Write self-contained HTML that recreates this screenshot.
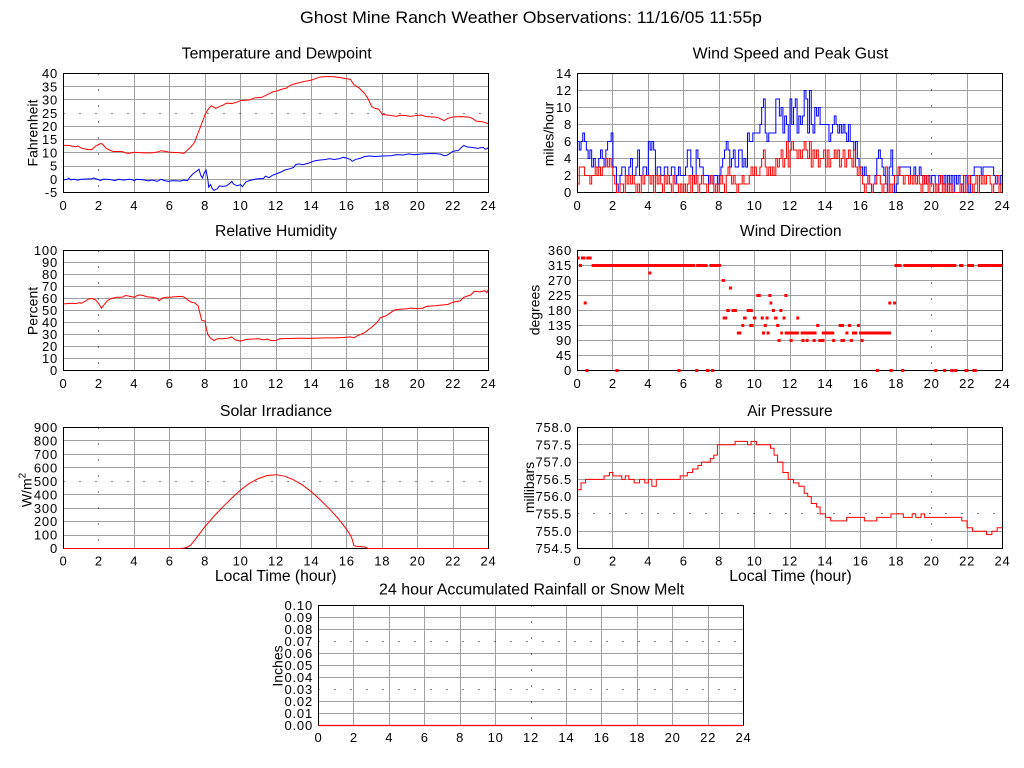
<!DOCTYPE html>
<html><head><meta charset="utf-8"><style>
html,body{margin:0;padding:0;background:#fff;}
svg{display:block;}
.g{stroke:#a0a0a0;fill:none;stroke-width:1}
.d{stroke:#000;stroke-dasharray:1 15;fill:none;stroke-width:1}
.b{fill:none;stroke:#000;stroke-width:1}
.s{fill:none;vector-effect:non-scaling-stroke;stroke-width:1}
.t{font-size:13px;letter-spacing:0.8px}
.yl text{text-anchor:end}
.xl text{text-anchor:middle}
.ct{font-size:15.5px;text-anchor:middle}
.at{font-size:14px;text-anchor:middle}
</style></head><body>
<svg width="1024" height="768" viewBox="0 0 1024 768" font-family="'Liberation Sans', Arial, sans-serif" fill="#000">
<rect width="1024" height="768" fill="#fff"/>
<text x="531" y="23" font-size="17" text-anchor="middle" textLength="462" lengthAdjust="spacingAndGlyphs">Ghost Mine Ranch Weather Observations: 11/16/05 11:55p</text>

<!-- ============ TEMPERATURE ============ -->
<text class="ct" x="276.7" y="58.5" textLength="190" lengthAdjust="spacingAndGlyphs">Temperature and Dewpoint</text>
<path class="g" d="M134.5 73.5V192.5M169.5 73.5V192.5M205.5 73.5V192.5M240.5 73.5V192.5M276.5 73.5V192.5M311.5 73.5V192.5M346.5 73.5V192.5M382.5 73.5V192.5M417.5 73.5V192.5M453.5 73.5V192.5M63.5 86.5H488.5M63.5 99.5H488.5M63.5 126.5H488.5M63.5 139.5H488.5M63.5 152.5H488.5M63.5 166.5H488.5M63.5 179.5H488.5"/>
<path class="d" d="M98.5 73.5V192.5M63.5 113.5H488.5"/>
<rect class="b" x="63.5" y="73.5" width="425" height="119"/>
<g transform="translate(63.5,192.5) scale(17.7083,-2.6444) translate(0,5)">
<polyline class="s" stroke="#ff0000" points="0,12.8 0.3,12.8 0.5,12.5 0.7,12.3 0.8,12.6 1.0,11.8 1.2,11.5 1.4,11.2 1.6,11.2 1.8,12.5 2.0,13.2 2.1,13.5 2.2,13.3 2.4,11.8 2.6,11 2.8,10.5 3.0,10.5 3.3,10.5 3.5,10 3.7,9.8 4.0,10.2 4.5,10 5.0,10 5.3,10.3 5.5,10.8 5.7,10.6 6.0,10.2 6.5,10.1 6.8,9.8 7.0,11 7.2,12.3 7.4,14 7.6,17.5 7.8,21 8.0,24.5 8.2,26.8 8.35,27.8 8.5,27.2 8.6,26.8 8.8,27.5 9.0,28 9.2,28.8 9.5,28.6 9.8,29.2 10,29.8 10.5,30 10.8,30.8 11.2,31 11.5,32 11.8,33 12.1,33.5 12.3,34 12.6,34.5 12.8,35.5 13.0,36 13.3,36.5 13.6,37 14.0,37.5 14.2,38 14.5,38.7 14.8,38.8 15.2,38.8 15.6,38.5 16.0,38 16.2,37.8 16.4,35.8 16.7,34.5 17.0,32.5 17.2,30.5 17.4,27.5 17.6,26.8 17.8,26.5 18.0,24.5 18.3,24.3 18.6,24 18.8,23.8 19.0,24.2 19.3,24.1 19.6,23.8 19.8,24 20.2,24.3 20.5,23.7 21.0,23.5 21.2,23.2 21.4,22.5 21.5,22.2 21.7,23 22.0,23.6 22.5,23.7 22.9,23.5 23.1,23 23.3,22 23.6,21.8 23.8,21.5 24,21"/>
<polyline class="s" stroke="#0000ff" points="0,-0.3 0.2,0 0.3,0.4 0.4,-0.2 0.6,0 0.8,-0.3 1.0,0 1.3,0.1 1.6,0.2 1.7,0.5 1.9,0 2.1,-0.5 2.2,0 2.5,0 2.7,-0.2 2.9,-0.5 3.1,0 3.4,-0.3 3.7,0 3.9,-0.2 4.0,-0.6 4.1,0 4.5,-0.2 4.8,-0.6 5.0,-0.3 5.3,-0.8 5.5,0 5.7,-0.5 5.9,-0.8 6.2,-0.5 6.6,-0.7 6.8,-0.3 7.0,-0.5 7.1,0.5 7.3,2 7.5,3 7.65,3.8 7.75,1.5 7.85,0.5 7.95,2.5 8.05,3.5 8.15,0 8.2,-3 8.3,-2 8.4,-3.5 8.5,-4.2 8.7,-3.5 8.8,-2.5 9.0,-2.7 9.2,-2.5 9.4,-1.5 9.5,-0.8 9.6,-1.8 9.8,-2.5 10.0,-2 10.1,-2.8 10.3,-1 10.5,-0.5 10.8,0 11.0,0.2 11.3,0.3 11.4,1.2 11.6,0.6 11.8,1.5 12.0,2 12.3,2.8 12.5,3.5 12.8,4 13.0,4.5 13.1,5.5 13.3,5.8 13.5,5.5 13.8,6 14.0,6.5 14.2,7 14.5,7.3 14.8,7.5 15.0,7.8 15.3,7.5 15.6,7.8 15.8,8.3 16.0,8 16.2,7.5 16.3,6.8 16.5,7.5 16.8,8 17.0,8.6 17.3,8.8 17.6,8.6 18.0,8.8 18.5,8.9 18.8,9.3 19.2,9.2 19.5,9.6 19.8,9.3 20.0,9.4 20.3,9.6 20.6,9.7 21.0,9.7 21.3,9.5 21.5,8.9 21.7,9.2 22.0,10.6 22.3,10.9 22.5,12.2 22.6,12.8 22.8,12.2 23.1,12 23.4,11.7 23.7,12.1 23.8,11.4 23.9,11.5 24,12"/>
</g>
<g class="t yl"><text x="58" y="78.1">40</text><text x="58" y="91.3">35</text><text x="58" y="104.5">30</text><text x="58" y="117.8">25</text><text x="58" y="131">20</text><text x="58" y="144.2">15</text><text x="58" y="157.4">10</text><text x="58" y="170.7">5</text><text x="58" y="183.9">0</text><text x="58" y="197.1">-5</text></g>
<g class="t xl"><text x="63.5" y="210">0</text><text x="98.9" y="210">2</text><text x="134.3" y="210">4</text><text x="169.8" y="210">6</text><text x="205.2" y="210">8</text><text x="240.6" y="210">10</text><text x="276" y="210">12</text><text x="311.4" y="210">14</text><text x="346.8" y="210">16</text><text x="382.3" y="210">18</text><text x="417.7" y="210">20</text><text x="453.1" y="210">22</text><text x="488.5" y="210">24</text></g>
<text class="at" transform="translate(37.5,133) rotate(-90)">Fahrenheit</text>

<!-- ============ WIND SPEED ============ -->
<text class="ct" x="790.5" y="58.5" textLength="195.6" lengthAdjust="spacingAndGlyphs">Wind Speed and Peak Gust</text>
<path class="g" d="M612.5 73.5V192.5M648.5 73.5V192.5M683.5 73.5V192.5M719.5 73.5V192.5M754.5 73.5V192.5M790.5 73.5V192.5M825.5 73.5V192.5M860.5 73.5V192.5M896.5 73.5V192.5M967.5 73.5V192.5M577.5 90.5H1002.5M577.5 107.5H1002.5M577.5 124.5H1002.5M577.5 141.5H1002.5M577.5 158.5H1002.5M577.5 175.5H1002.5"/>
<path class="d" d="M931.5 73.5V192.5"/>
<rect class="b" x="577.5" y="73.5" width="425" height="119"/>
<g transform="translate(577.5,192.5) scale(17.7083,-8.5)">
<path class="s" stroke="#0000ff" d="M0,6H0.1V5H0.2V6H0.3V7H0.4V6H0.5V5H0.6V4H0.7V5H0.8V3H0.9V4H1V3H1.1V3H1.2V4H1.3V5H1.4V4H1.5V3H1.6V5H1.7V6H1.8V6H1.9V7H2V3H2.1V3H2.2V1H2.3V0H2.4V2H2.5V3H2.6V3H2.7V2H2.8V2H2.9V3H3V4H3.1V2H3.2V2H3.3V3H3.4V5H3.5V2H3.6V2H3.7V3H3.8V3H3.9V2H4V6H4.1V5H4.2V6H4.3V5H4.4V2H4.5V3H4.6V3H4.7V2H4.8V2H4.9V3H5V3H5.1V2H5.2V2H5.3V3H5.4V3H5.5V1H5.6V2H5.7V3H5.8V2H5.9V2H6V2H6.1V3H6.2V5H6.3V5H6.4V3H6.5V2H6.6V1H6.7V5H6.8V4H6.9V3H7V3H7.1V2H7.2V2H7.3V2H7.4V1H7.5V2H7.6V1H7.7V2H7.8V2H7.9V1H8V2H8.1V3H8.2V4H8.3V5H8.4V6H8.5V5H8.6V3H8.7V4H8.8V5H8.9V3H9V3H9.1V5H9.2V5H9.3V3H9.4V4H9.5V3H9.6V7H9.7V6H9.8V6H9.9V7H10V7H10.1V7H10.2V7H10.3V8H10.4V10H10.5V11H10.6V7H10.7V6H10.8V7H10.9V7H11V7H11.1V7H11.2V11H11.3V11H11.4V9H11.5V10H11.6V7H11.7V9H11.8V8H11.9V6H12V11H12.1V8H12.2V10H12.3V11H12.4V7H12.5V9H12.6V8H12.7V9H12.8V12H12.9V11H13V7H13.1V12H13.2V8H13.3V7H13.4V10H13.5V9H13.6V10H13.7V8H13.8V8H13.9V8H14V8H14.1V8H14.2V6H14.3V7H14.4V8H14.5V9H14.6V8H14.7V7H14.8V8H14.9V7H15V8H15.1V7H15.2V6H15.3V8H15.4V6H15.5V6H15.6V5H15.7V6H15.8V4H15.9V3H16V3H16.1V2H16.2V3H16.3V2H16.4V1H16.5V1H16.6V0H16.7V1H16.8V2H16.9V4H17V5H17.1V4H17.2V3H17.3V2H17.4V1H17.5V0H17.6V3H17.7V5H17.8V2H17.9V0H18V1H18.1V2H18.2V3H18.3V3H18.4V3H18.5V3H18.6V3H18.7V3H18.8V2H18.9V2H19V3H19.1V2H19.2V2H19.3V3H19.4V2H19.5V1H19.6V2H19.7V1H19.8V2H19.9V1H20V2H20.1V2H20.2V1H20.3V0H20.4V2H20.5V2H20.6V1H20.7V2H20.8V0H20.9V2H21V1H21.1V2H21.2V0H21.3V2H21.4V1H21.5V2H21.6V0H21.7V1H21.8V2H21.9V2H22V1H22.1V0H22.2V2H22.3V2H22.4V3H22.5V3H22.6V3H22.7V3H22.8V2H22.9V3H23V3H23.1V3H23.2V3H23.3V3H23.4V3H23.5V2H23.6V1H23.7V2H23.8V1H23.9V2H24"/>
<path class="s" stroke="#ff0000" d="M0,1H0.1V3H0.2V3H0.3V3H0.4V2H0.5V2H0.6V2H0.7V1H0.8V2H0.9V2H1V3H1.1V2H1.2V3H1.3V2H1.4V3H1.5V3H1.6V4H1.7V3H1.8V4H1.9V3H2V2H2.1V1H2.2V0H2.3V0H2.4V1H2.5V1H2.6V0H2.7V2H2.8V1H2.9V2H3V1H3.1V2H3.2V1H3.3V0H3.4V1H3.5V0H3.6V2H3.7V1H3.8V2H3.9V2H4V2H4.1V1H4.2V2H4.3V0H4.4V2H4.5V1H4.6V2H4.7V1H4.8V0H4.9V2H5V1H5.1V2H5.2V1H5.3V0H5.4V2H5.5V1H5.6V1H5.7V0H5.8V1H5.9V0H6V1H6.1V0H6.2V1H6.3V2H6.4V0H6.5V2H6.6V1H6.7V2H6.8V0H6.9V1H7V2H7.1V1H7.2V1H7.3V0H7.4V1H7.5V2H7.6V1H7.7V0H7.8V1H7.9V0H8V1H8.1V2H8.2V1H8.3V0H8.4V2H8.5V3H8.6V2H8.7V1H8.8V2H8.9V1H9V0H9.1V1H9.2V1H9.3V2H9.4V1H9.5V1H9.6V1H9.7V2H9.8V3H9.9V2H10V3H10.1V2H10.2V2H10.3V3H10.4V4H10.5V5H10.6V3H10.7V2H10.8V3H10.9V2H11V3H11.1V2H11.2V4H11.3V3H11.4V4H11.5V5H11.6V3H11.7V4H11.8V6H11.9V3H12V5H12.1V6H12.2V5H12.3V5H12.4V4H12.5V5H12.6V4H12.7V5H12.8V6H12.9V5H13V4H13.1V6H13.2V3H13.3V5H13.4V4H13.5V5H13.6V3H13.7V4H13.8V4H13.9V5H14V3H14.1V5H14.2V3H14.3V4H14.4V4H14.5V5H14.6V4H14.7V5H14.8V3H14.9V4H15V5H15.1V3H15.2V4H15.3V5H15.4V4H15.5V3H15.6V5H15.7V3H15.8V2H15.9V3H16V2H16.1V1H16.2V0H16.3V1H16.4V2H16.5V1H16.6V0H16.7V1H16.8V1H16.9V2H17V2H17.1V1H17.2V0H17.3V1H17.4V3H17.5V0H17.6V1H17.7V0H17.8V1H17.9V2H18V2H18.1V3H18.2V2H18.3V2H18.4V1H18.5V2H18.6V2H18.7V1H18.8V2H18.9V1H19V2H19.1V1H19.2V2H19.3V1H19.4V0H19.5V2H19.6V1H19.7V2H19.8V0H19.9V1H20V1H20.1V0H20.2V1H20.3V0H20.4V1H20.5V2H20.6V0H20.7V1H20.8V0H20.9V1H21V0H21.1V1H21.2V0H21.3V0H21.4V0H21.5V0H21.6V1H21.7V0H21.8V2H21.9V0H22V1H22.1V2H22.2V1H22.3V0H22.4V1H22.5V2H22.6V0H22.7V2H22.8V1H22.9V2H23V1H23.1V2H23.2V2H23.3V1H23.4V0H23.5V1H23.6V2H23.7V2H23.8V0H23.9V1H24"/>
</g>
<g class="t yl"><text x="572" y="78.1">14</text><text x="572" y="95.1">12</text><text x="572" y="112.1">10</text><text x="572" y="129.1">8</text><text x="572" y="146.1">6</text><text x="572" y="163.1">4</text><text x="572" y="180.1">2</text><text x="572" y="197.1">0</text></g>
<g class="t xl"><text x="577.5" y="210">0</text><text x="612.9" y="210">2</text><text x="648.3" y="210">4</text><text x="683.8" y="210">6</text><text x="719.2" y="210">8</text><text x="754.6" y="210">10</text><text x="790" y="210">12</text><text x="825.4" y="210">14</text><text x="860.8" y="210">16</text><text x="896.3" y="210">18</text><text x="931.7" y="210">20</text><text x="967.1" y="210">22</text><text x="1002.5" y="210">24</text></g>
<text class="at" transform="translate(553.5,134) rotate(-90)">miles/hour</text>

<!-- ============ RELATIVE HUMIDITY ============ -->
<text class="ct" x="276" y="236" textLength="122" lengthAdjust="spacingAndGlyphs">Relative Humidity</text>
<path class="g" d="M134.5 250.5V370.5M169.5 250.5V370.5M205.5 250.5V370.5M240.5 250.5V370.5M276.5 250.5V370.5M311.5 250.5V370.5M346.5 250.5V370.5M382.5 250.5V370.5M417.5 250.5V370.5M453.5 250.5V370.5M63.5 262.5H488.5M63.5 274.5H488.5M63.5 286.5H488.5M63.5 298.5H488.5M63.5 310.5H488.5M63.5 322.5H488.5M63.5 334.5H488.5M63.5 346.5H488.5M63.5 358.5H488.5"/>
<path class="d" d="M98.5 250.5V370.5"/>
<rect class="b" x="63.5" y="250.5" width="425" height="120"/>
<g transform="translate(63.5,370.5) scale(17.7083,-1.2)">
<polyline class="s" stroke="#ff0000" points="0,55.5 0.3,55.8 0.5,56 0.7,55.7 0.9,56.5 1.0,56 1.2,57.5 1.4,59.5 1.6,60 1.8,59 2.0,55.5 2.15,52 2.3,55 2.5,58.5 2.7,60 3.0,61 3.3,61 3.5,62.5 3.7,62 4.0,61 4.1,62 4.3,63 4.5,62.5 4.7,61.5 5.0,61 5.3,60 5.4,58 5.6,60.5 5.8,61 6.0,61 6.3,61.5 6.7,61.8 6.9,60.5 7.0,59 7.2,57 7.4,56.5 7.6,54 7.7,48 7.8,42 8.0,41 8.05,36 8.15,30 8.3,27 8.5,25 8.7,26.5 9.0,26.5 9.3,27 9.5,28 9.7,25.5 10.0,24.5 10.3,25.8 10.5,26 11.0,26.5 11.3,25.5 11.5,26.2 11.7,25 12.0,25 12.2,26.5 13.0,26.8 13.4,27 13.8,26.8 14.3,27 14.8,27.2 15.3,27.2 15.8,27.5 16.2,28 16.4,27.2 16.6,29 17.0,31.5 17.4,36 17.7,40 17.9,44 18.2,45.5 18.5,48.5 18.7,50.5 19.0,51 19.4,51.5 19.6,52 20.0,51.5 20.3,52 20.5,53.5 21.0,54 21.3,54.5 21.7,55 22.0,57 22.4,58 22.6,61 22.8,62 23.0,63 23.2,66 23.5,65.5 23.8,66.5 23.9,65 24,67.5"/>
</g>
<g class="t yl"><text x="58" y="255.1">100</text><text x="58" y="267.1">90</text><text x="58" y="279.1">80</text><text x="58" y="291.1">70</text><text x="58" y="303.1">60</text><text x="58" y="315.1">50</text><text x="58" y="327.1">40</text><text x="58" y="339.1">30</text><text x="58" y="351.1">20</text><text x="58" y="363.1">10</text><text x="58" y="375.1">0</text></g>
<g class="t xl"><text x="63.5" y="388">0</text><text x="98.9" y="388">2</text><text x="134.3" y="388">4</text><text x="169.8" y="388">6</text><text x="205.2" y="388">8</text><text x="240.6" y="388">10</text><text x="276" y="388">12</text><text x="311.4" y="388">14</text><text x="346.8" y="388">16</text><text x="382.3" y="388">18</text><text x="417.7" y="388">20</text><text x="453.1" y="388">22</text><text x="488.5" y="388">24</text></g>
<text class="at" transform="translate(37.5,311) rotate(-90)">Percent</text>

<!-- ============ WIND DIRECTION ============ -->
<text class="ct" x="790.8" y="236" textLength="101.7" lengthAdjust="spacingAndGlyphs">Wind Direction</text>
<path class="g" d="M612.5 250.5V370.5M648.5 250.5V370.5M683.5 250.5V370.5M719.5 250.5V370.5M754.5 250.5V370.5M790.5 250.5V370.5M825.5 250.5V370.5M860.5 250.5V370.5M896.5 250.5V370.5M967.5 250.5V370.5M577.5 265.5H1002.5M577.5 280.5H1002.5M577.5 295.5H1002.5M577.5 310.5H1002.5M577.5 325.5H1002.5M577.5 340.5H1002.5M577.5 355.5H1002.5"/>
<path class="d" d="M931.5 250.5V370.5"/>
<rect class="b" x="577.5" y="250.5" width="425" height="120"/>
<g transform="translate(577.5,370.5) scale(17.7083,-0.33333)">
<path class="s" stroke="#ff0000" style="stroke-width:3" d="M0,337.5H0.12M0.2,337.5H0.45M0.5,337.5H0.8M0.08,315H0.25M0.8,315H6.65M6.7,315H7.35M7.45,315H8.1M0.35,202.5h0.17M0.45,0h0.17M2.15,0h0.17M4.0,292.5h0.17M5.65,0h0.17M6.65,0h0.17M7.25,0h0.2M7.55,0h0.17M8.15,270h0.17M8.2,157.5H8.45M8.55,247.5h0.17M8.4,180H8.6M8.7,180H9.0M9.0,112.5H9.25M9.25,135h0.17M9.35,157.5H9.55M9.55,180H9.9M9.7,135H9.95M9.9,157.5H10.1M10.1,225H10.35M10.35,157.5h0.17M10.42,112.5h0.17M10.52,135h0.17M10.62,157.5h0.17M10.68,112.5h0.17M10.78,225h0.17M10.85,202.5H11.0M10.98,180h0.17M11.1,157.5H11.3M11.22,135h0.17M11.3,90h0.17M11.4,180h0.17M11.45,112.5H11.6M11.58,157.5h0.17M11.68,225h0.17M11.7,112.5H12.5M11.98,90h0.17M12.35,157.5h0.17M12.65,90h0.17M12.6,112.5H13.5M12.88,90h0.17M13.28,90h0.17M13.48,135h0.17M13.6,90H13.95M13.8,112.5H14.5M14.38,90h0.17M14.75,135H15.05M14.85,90H15.1M15.13,112.5h0.17M15.28,135h0.17M15.38,90h0.17M15.5,112.5H15.8M15.78,135h0.17M15.9,112.5H17.7M15.98,90h0.17M16.85,0h0.17M17.55,202.5h0.17M17.82,202.5h0.17M17.62,0H17.8M18.28,0h0.17M17.9,315H18.3M18.4,315H21.4M21.55,315H21.8M22.0,315H22.4M22.6,315H24M20.15,0h0.17M20.65,0h0.17M21.05,0h0.17M21.25,0H21.45M21.85,0H22.08M22.3,0H22.55"/>
</g>
<g class="t yl"><text x="572" y="255.1">360</text><text x="572" y="270.1">315</text><text x="572" y="285.1">270</text><text x="572" y="300.1">225</text><text x="572" y="315.1">180</text><text x="572" y="330.1">135</text><text x="572" y="345.1">90</text><text x="572" y="360.1">45</text><text x="572" y="375.1">0</text></g>
<g class="t xl"><text x="577.5" y="388">0</text><text x="612.9" y="388">2</text><text x="648.3" y="388">4</text><text x="683.8" y="388">6</text><text x="719.2" y="388">8</text><text x="754.6" y="388">10</text><text x="790" y="388">12</text><text x="825.4" y="388">14</text><text x="860.8" y="388">16</text><text x="896.3" y="388">18</text><text x="931.7" y="388">20</text><text x="967.1" y="388">22</text><text x="1002.5" y="388">24</text></g>
<text class="at" transform="translate(539.5,310) rotate(-90)">degrees</text>

<!-- ============ SOLAR ============ -->
<text class="ct" x="276" y="416" textLength="112.3" lengthAdjust="spacingAndGlyphs">Solar Irradiance</text>
<path class="g" d="M134.5 427.5V548.5M169.5 427.5V548.5M205.5 427.5V548.5M240.5 427.5V548.5M276.5 427.5V548.5M311.5 427.5V548.5M346.5 427.5V548.5M382.5 427.5V548.5M417.5 427.5V548.5M453.5 427.5V548.5M63.5 440.5H488.5M63.5 454.5H488.5M63.5 467.5H488.5M63.5 494.5H488.5M63.5 508.5H488.5M63.5 521.5H488.5M63.5 535.5H488.5"/>
<path class="d" d="M98.5 427.5V548.5M63.5 481.5H488.5"/>
<rect class="b" x="63.5" y="427.5" width="425" height="121"/>
<g transform="translate(63.5,548.5) scale(17.7083,-0.13444)">
<polyline class="s" stroke="#ff0000" points="0,0 6.6,0 6.8,3 7.0,10 7.2,28 7.4,60 7.6,95 8.0,165 8.5,240 9.0,310 9.5,375 10.0,435 10.5,485 11.0,520 11.5,543 12.0,549 12.5,538 13.0,510 13.5,472 14.0,422 14.5,362 15.0,297 15.5,225 16.0,140 16.2,100 16.3,70 16.4,22 16.5,17 17.0,12 17.2,0 24,0"/>
</g>
<g class="t yl"><text x="58" y="432.1">900</text><text x="58" y="445.5">800</text><text x="58" y="459">700</text><text x="58" y="472.4">600</text><text x="58" y="485.9">500</text><text x="58" y="499.3">400</text><text x="58" y="512.8">300</text><text x="58" y="526.2">200</text><text x="58" y="539.7">100</text><text x="58" y="553.1">0</text></g>
<g class="t xl"><text x="63.5" y="565.5">0</text><text x="98.9" y="565.5">2</text><text x="134.3" y="565.5">4</text><text x="169.8" y="565.5">6</text><text x="205.2" y="565.5">8</text><text x="240.6" y="565.5">10</text><text x="276" y="565.5">12</text><text x="311.4" y="565.5">14</text><text x="346.8" y="565.5">16</text><text x="382.3" y="565.5">18</text><text x="417.7" y="565.5">20</text><text x="453.1" y="565.5">22</text><text x="488.5" y="565.5">24</text></g>
<text class="at" transform="translate(31.5,490) rotate(-90)">W/m<tspan font-size="10" dy="-6">2</tspan></text>
<text class="ct" x="275.8" y="581" textLength="121.7" lengthAdjust="spacingAndGlyphs">Local Time (hour)</text>

<!-- ============ PRESSURE ============ -->
<text class="ct" x="790" y="416" textLength="85.4" lengthAdjust="spacingAndGlyphs">Air Pressure</text>
<path class="g" d="M612.5 427.5V548.5M648.5 427.5V548.5M683.5 427.5V548.5M719.5 427.5V548.5M754.5 427.5V548.5M790.5 427.5V548.5M825.5 427.5V548.5M860.5 427.5V548.5M896.5 427.5V548.5M967.5 427.5V548.5M577.5 444.5H1002.5M577.5 462.5H1002.5M577.5 479.5H1002.5M577.5 496.5H1002.5M577.5 531.5H1002.5"/>
<path class="d" d="M931.5 427.5V548.5M577.5 513.5H1002.5"/>
<rect class="b" x="577.5" y="427.5" width="425" height="121"/>
<g transform="translate(577.5,548.5) scale(17.7083,-34.571) translate(0,-754.5)">
<path class="s" stroke="#ff0000" d="M0,756.2 H0.2 V756.4 H0.45 V756.5 H1.5 V756.6 H1.8 V756.7 H2.0 V756.6 H2.5 V756.5 H2.7 V756.6 H2.9 V756.5 H3.2 V756.4 H3.5 V756.5 H3.8 V756.4 H4.0 V756.5 H4.2 V756.3 H4.45 V756.5 H5.8 V756.6 H6.2 V756.7 H6.5 V756.8 H6.8 V756.9 H7.0 V757.0 H7.5 V757.1 H7.7 V757.2 H7.9 V757.5 H8.9 V757.6 H9.6 V757.5 H9.8 V757.6 H10.1 V757.5 H10.9 V757.4 H11.1 V757.2 H11.3 V757.0 H11.6 V756.7 H11.9 V756.5 H12.2 V756.4 H12.5 V756.3 H12.8 V756.1 H13.0 V756.0 H13.2 V755.8 H13.5 V755.7 H13.7 V755.5 H14.0 V755.4 H14.3 V755.3 H15.2 V755.4 H16.2 V755.3 H16.9 V755.4 H17.7 V755.5 H18.4 V755.4 H18.9 V755.5 H19.1 V755.4 H19.4 V755.5 H19.6 V755.4 H21.7 V755.3 H22.0 V755.1 H22.3 V755.0 H23.1 V754.9 H23.4 V755.0 H23.7 V755.1 H24"/>
</g>
<g class="t yl"><text x="572" y="432.1">758.0</text><text x="572" y="449.4">757.5</text><text x="572" y="466.7">757.0</text><text x="572" y="484">756.5</text><text x="572" y="501.2">756.0</text><text x="572" y="518.5">755.5</text><text x="572" y="535.8">755.0</text><text x="572" y="553.1">754.5</text></g>
<g class="t xl"><text x="577.5" y="565.5">0</text><text x="612.9" y="565.5">2</text><text x="648.3" y="565.5">4</text><text x="683.8" y="565.5">6</text><text x="719.2" y="565.5">8</text><text x="754.6" y="565.5">10</text><text x="790" y="565.5">12</text><text x="825.4" y="565.5">14</text><text x="860.8" y="565.5">16</text><text x="896.3" y="565.5">18</text><text x="931.7" y="565.5">20</text><text x="967.1" y="565.5">22</text><text x="1002.5" y="565.5">24</text></g>
<text class="at" transform="translate(534,487.5) rotate(-90)">millibars</text>
<text class="ct" x="790.5" y="581" textLength="122.4" lengthAdjust="spacingAndGlyphs">Local Time (hour)</text>

<!-- ============ RAINFALL ============ -->
<text class="ct" x="531.7" y="594.5" textLength="305.3" lengthAdjust="spacingAndGlyphs">24 hour Accumulated Rainfall or Snow Melt</text>
<path class="g" d="M353.5 605.5V725.5M389.5 605.5V725.5M424.5 605.5V725.5M460.5 605.5V725.5M495.5 605.5V725.5M566.5 605.5V725.5M601.5 605.5V725.5M637.5 605.5V725.5M672.5 605.5V725.5M708.5 605.5V725.5M318.5 617.5H743.5M318.5 629.5H743.5M318.5 653.5H743.5M318.5 665.5H743.5M318.5 677.5H743.5M318.5 701.5H743.5M318.5 713.5H743.5"/>
<path class="d" d="M531.5 605.5V725.5M318.5 641.5H743.5M318.5 689.5H743.5"/>
<rect class="b" x="318.5" y="605.5" width="425" height="120"/>
<path d="M318.5 725.5H743.5" stroke="#ff0000" stroke-width="1.2" fill="none"/>
<g class="t yl"><text x="313" y="610.1">0.10</text><text x="313" y="622.1">0.09</text><text x="313" y="634.1">0.08</text><text x="313" y="646.1">0.07</text><text x="313" y="658.1">0.06</text><text x="313" y="670.1">0.05</text><text x="313" y="682.1">0.04</text><text x="313" y="694.1">0.03</text><text x="313" y="706.1">0.02</text><text x="313" y="718.1">0.01</text><text x="313" y="730.1">0.00</text></g>
<g class="t xl"><text x="318.5" y="742">0</text><text x="353.9" y="742">2</text><text x="389.3" y="742">4</text><text x="424.8" y="742">6</text><text x="460.2" y="742">8</text><text x="495.6" y="742">10</text><text x="531" y="742">12</text><text x="566.4" y="742">14</text><text x="601.8" y="742">16</text><text x="637.3" y="742">18</text><text x="672.7" y="742">20</text><text x="708.1" y="742">22</text><text x="743.5" y="742">24</text></g>
<text class="at" transform="translate(282.5,666) rotate(-90)">Inches</text>
</svg>
</body></html>
